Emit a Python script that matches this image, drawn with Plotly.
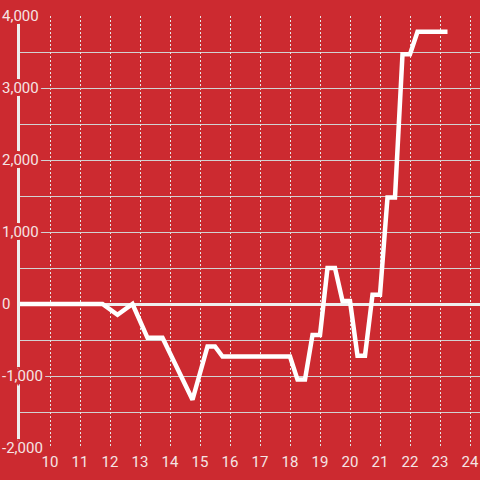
import plotly.graph_objects as go

# data
x_vals = [9.0, 11.75, 12.25, 12.75, 13.25, 13.75, 14.75, 15.25, 15.5, 15.75,
          18.0, 18.25, 18.5, 18.75, 19.0, 19.25, 19.5, 19.75, 20.0, 20.25,
          20.5, 20.75, 21.0, 21.25, 21.5, 21.75, 22.0, 22.25, 23.25]
y_vals = [0, 0, -150, 0, -470, -470, -1330, -590, -590, -730,
          -730, -1050, -1050, -430, -430, 500, 500, 40, 40, -720,
          -720, 130, 130, 1480, 1480, 3470, 3470, 3780, 3780]

x_tickvals = list(range(10, 25))
x_ticktext = [str(v) for v in x_tickvals]
y_tickvals = [-2000, -1000, 0, 1000, 2000, 3000, 4000]
y_ticktext = ["-2,000", "-1,000", "0", "1,000", "2,000", "3,000", "4,000"]

BG = "#cc2a30"
LABEL = "#f5e4e4"
offs = [(-1, 0), (1, 0), (0, -1), (0, 1), (-2, -2), (2, -2), (-2, 2), (2, 2),
        (-3, 0), (3, 0), (0, -3), (0, 3), (-3, -3), (3, 3), (-3, 3), (3, -3),
        (-2, 0), (2, 0), (0, -2), (0, 2)]
shadow = ", ".join(f"{a}px {b}px 0 {BG}" for a, b in offs)

fig = go.Figure()
fig.add_trace(go.Scatter(x=x_vals, y=y_vals, mode="lines",
                         line=dict(color="#ffffff", width=4.5),
                         hoverinfo="skip", showlegend=False))

fig.update_layout(
    width=480, height=480,
    margin=dict(l=20, r=0, t=16, b=32, autoexpand=False),
    paper_bgcolor=BG, plot_bgcolor=BG,
    font=dict(family="Roboto", size=15, color=LABEL),
    showlegend=False,
)
fig.update_xaxes(
    range=[9.0, 24.3333], tickmode="array", tickvals=x_tickvals, ticktext=x_ticktext,
    showgrid=True, gridcolor="#e6e6e6", gridwidth=1, griddash="2px,2px",
    zeroline=False, showline=False, ticks="", automargin=False,
    ticklabelstandoff=3,
    tickfont=dict(family="Roboto", size=15, color=LABEL),
)
fig.update_yaxes(
    range=[-2000, 4000], tickmode="array", tickvals=y_tickvals, ticktext=y_ticktext,
    showgrid=True, gridcolor="#d2d2d2", gridwidth=1,
    minor=dict(tickmode="linear", tick0=0, dtick=500, showgrid=True,
               gridcolor="#d2d2d2", gridwidth=1, ticks=""),
    zeroline=True, zerolinecolor="#eeeeee", zerolinewidth=3,
    showline=True, linecolor="#eeeeee", linewidth=3,
    ticks="", ticklabelposition="inside", ticklabelstandoff=-18,
    ticklabeloverflow="allow", automargin=False,
    tickfont=dict(family="Roboto", size=15, color=LABEL, shadow=shadow),
)

fig.write_html("out.html",
               config={"displayModeBar": False, "staticPlot": True},
               post_script="document.body.style.margin='0';document.body.style.background='%s';" % BG)
